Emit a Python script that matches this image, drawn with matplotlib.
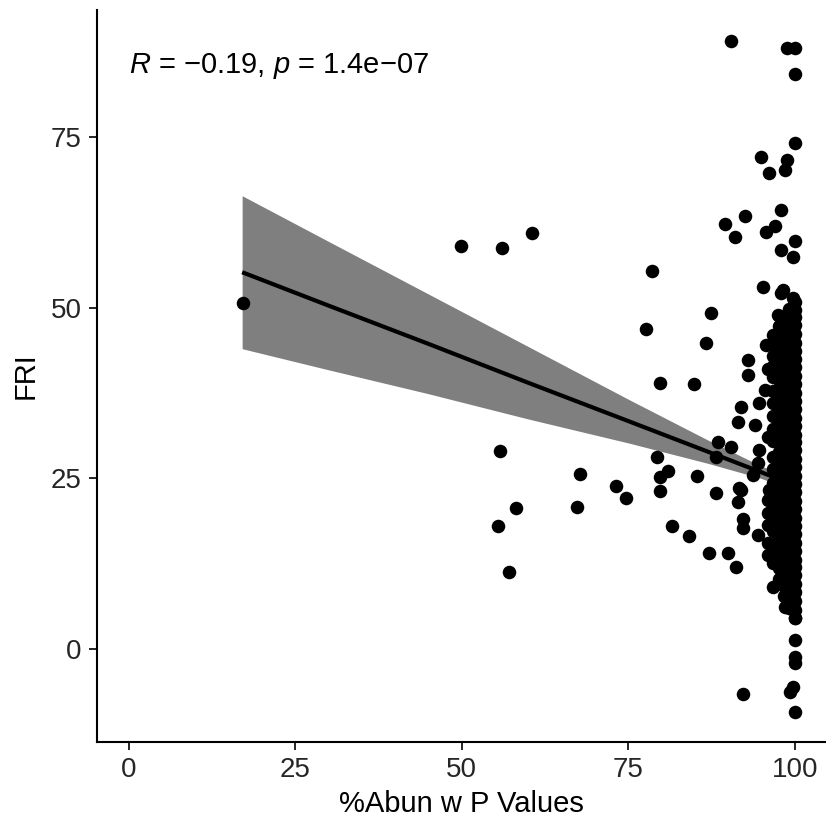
import matplotlib
matplotlib.use("Agg")
import matplotlib.pyplot as plt
import numpy as np

plt.rcParams['font.family'] = ['Liberation Sans', 'DejaVu Sans']
plt.rcParams['mathtext.fontset'] = 'custom'
plt.rcParams['mathtext.rm'] = 'Liberation Sans'
plt.rcParams['mathtext.it'] = 'Liberation Sans:italic'

# scattered points (x = %Abun w P Values, y = FRI)
sparse_x = [17.1, 49.9, 56.1, 60.6, 55.7, 55.5, 58.2, 57.1, 67.7, 67.3, 73.2, 74.7,
            78.5, 77.7, 79.8, 79.3, 81.0, 79.7, 79.8, 81.5, 84.1, 84.8, 85.3, 87.1,
            87.5, 86.7, 88.2, 88.5, 88.2, 90.5, 90.0, 91.2, 89.5, 90.4, 91.0, 92.5,
            92.2, 93.7, 94.5, 92.0, 91.5, 92.2, 92.2, 94.5, 96.0, 96.2, 91.7, 96.7,
            98.5, 92.0, 91.5, 94.0, 94.7, 95.5, 93.0, 93.0, 95.7, 97.5, 98.0, 95.2,
            98.2, 99.7, 99.7, 98.0, 100.0, 95.7, 97.0, 98.0, 95.0, 96.1, 98.8, 98.6,
            100.0, 100.0, 98.8, 100.0, 100.0, 100.0, 100.0, 100.0, 99.7, 99.3, 100.0,
            94.7]
sparse_y = [50.7, 59.1, 58.7, 60.9, 29.0, 18.0, 20.6, 11.3, 25.6, 20.8, 23.9, 22.1,
            55.4, 46.9, 39.0, 28.1, 26.1, 25.2, 23.1, 18.0, 16.6, 38.9, 25.3, 14.1,
            49.2, 44.9, 22.8, 30.4, 28.2, 29.6, 14.1, 12.1, 62.2, 89.0, 60.3, 63.4,
            -6.5, 25.5, 27.2, 23.3, 21.6, 19.1, 17.7, 16.7, 13.8, 23.3, 23.6, 9.1,
            6.2, 35.5, 33.3, 32.8, 36.0, 37.9, 42.3, 40.1, 44.5, 48.9, 52.1, 53.1,
            52.6, 51.4, 57.5, 58.4, 59.7, 61.1, 62.0, 64.3, 72.1, 69.8, 71.6, 70.2,
            74.1, 84.2, 88.0, 88.0, 4.5, 1.3, -1.1, -2.1, -5.5, -6.3, -9.2,
            29.2]

# dense block of points near 100 %, one list of FRI values per x position
dense_cols = {
    100.0: [4.5, 5.8, 7.0, 8.3, 9.5, 10.8, 12.0, 13.1, 14.4, 15.6, 16.9, 18.1, 19.2,
            20.5, 21.7, 23.0, 24.2, 25.3, 26.6, 27.8, 29.1, 30.3, 31.4, 32.7, 33.9,
            35.2, 36.4, 37.5, 38.8, 40.0, 41.3, 42.5, 43.6, 44.9, 46.1, 47.4, 48.6,
            49.7, 50.8],
    99.2: [6.0, 7.4, 8.7, 10.1, 11.4, 12.6, 14.0, 15.3, 16.7, 17.9, 19.3, 20.6, 22.0,
           23.2, 24.6, 25.9, 27.3, 28.5, 29.9, 31.2, 32.6, 33.8, 35.2, 36.5, 37.9,
           39.1, 40.5, 41.8, 43.2, 44.4, 45.8, 47.1, 48.5, 49.8],
    98.4: [7.8, 9.3, 10.9, 12.2, 13.8, 15.1, 16.6, 18.0, 19.5, 20.9, 22.3, 23.8, 25.1,
           26.7, 28.0, 29.4, 30.8, 32.2, 33.7, 34.8, 35.9, 37.4, 38.7, 40.1, 41.5,
           43.0, 44.3, 45.9, 47.2, 48.6],
    97.6: [10.3, 11.9, 13.4, 15.0, 16.4, 18.1, 19.6, 21.2, 22.7, 24.1, 25.8, 27.3,
           28.8, 30.3, 31.9, 33.4, 35.0, 36.6, 38.2, 39.8, 41.0, 42.4, 44.1, 45.7, 47.3],
    96.8: [12.6, 14.5, 17.3, 19.0, 20.8, 22.5, 24.3, 26.4, 28.1, 30.5, 32.2, 34.1,
           36.0, 37.8, 39.8, 41.5, 43.0, 44.6, 46.0],
    96.0: [15.5, 18.2, 20.0, 21.9, 31.0, 41.0],
}

# linear fit and 95% band
fit_x = [17, 30, 45, 60, 75, 87, 95, 100]
fit_y = [55.2, 50.3, 44.7, 39.0, 33.4, 28.9, 25.9, 24.0]
band_lo = [44.0, 40.9, 37.4, 33.7, 30.2, 27.2, 25.0, 23.1]
band_hi = [66.4, 59.7, 52.0, 44.3, 36.6, 30.6, 26.8, 24.9]

cor_label = r"$R$ = $-$0.19, $p$ = 1.4e$-$07"

x_all = list(sparse_x)
y_all = list(sparse_y)
for xv, ys in dense_cols.items():
    x_all += [xv] * len(ys)
    y_all += ys

fig = plt.figure(figsize=(8.26, 8.24), dpi=100)
ax = fig.add_axes([97/826, 82/824, 729/826, 732/824])

ax.fill_between(fit_x, band_lo, band_hi, color='#7f7f7f', lw=0, zorder=1)
ax.scatter(x_all, y_all, s=95, color='black', linewidths=0, zorder=2)
ax.plot(fit_x, fit_y, color='black', lw=3, zorder=3, solid_capstyle='butt')

ax.text(0, 85.4, cor_label, fontsize=21, va='center', ha='left')

ax.set_xlim(-4.8, 104.7)
ax.set_ylim(-13.6, 93.6)
ax.set_xticks([0, 25, 50, 75, 100])
ax.set_yticks([0, 25, 50, 75])
ax.set_xlabel('%Abun w P Values', fontsize=21, labelpad=5)
ax.set_ylabel('FRI', fontsize=21, labelpad=8)
ax.tick_params(labelsize=20, length=6, width=1.2, colors='black', labelcolor='#262626', pad=5)
for side in ['top', 'right']:
    ax.spines[side].set_visible(False)
for side in ['left', 'bottom']:
    ax.spines[side].set_linewidth(1.5)

fig.savefig('out.png', dpi=100)
